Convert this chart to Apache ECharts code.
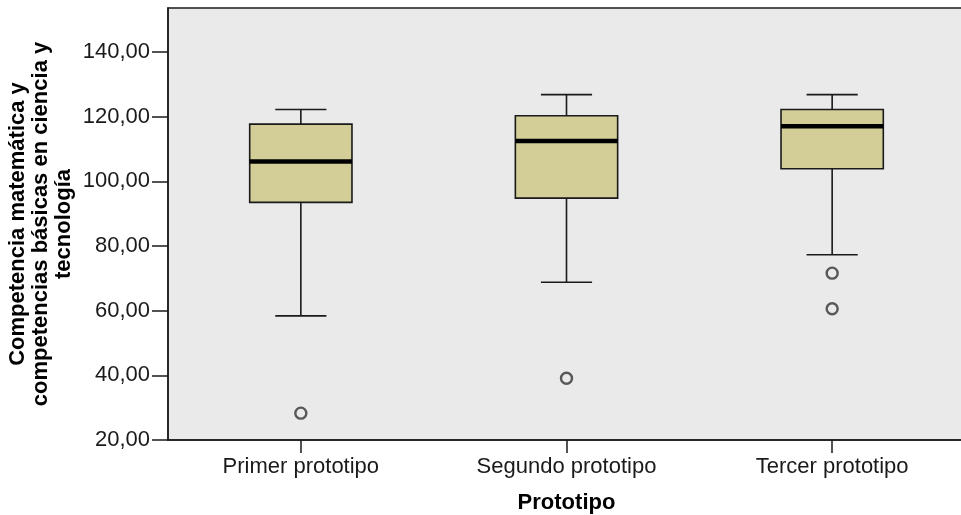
<!DOCTYPE html>
<html>
<head>
<meta charset="utf-8">
<script src="https://cdn.jsdelivr.net/npm/echarts@6/dist/echarts.min.js"></script>
<style>
  html, body { margin: 0; padding: 0; background: #ffffff; }
  #chart { width: 961px; height: 515px; }
</style>
</head>
<body>
<div id="chart"></div>
<script>
// Groups on the horizontal axis
const categories = ['Primer prototipo', 'Segundo prototipo', 'Tercer prototipo'];

// Five-number summary per group
const whiskerLow  = [58.4, 68.8, 77.3];
const quartile1   = [93.5, 94.8, 103.9];
const medians     = [106.1, 112.5, 117.0];
const quartile3   = [117.7, 120.3, 122.2];
const whiskerHigh = [122.2, 126.8, 126.8];

// Outliers as [group index, value]
const outlierGroup = [0, 1, 2, 2];
const outlierValue = [28.3, 39.1, 71.6, 60.6];

// Value axis ticks
const yTicks = [20, 40, 60, 80, 100, 120, 140];
const yMin = 20;
const yMax = 153.6;

const boxData = categories.map((c, i) => [i, whiskerLow[i], quartile1[i], medians[i], quartile3[i], whiskerHigh[i]]);
const outlierData = outlierGroup.map((g, i) => [g, outlierValue[i]]);

const FONT = '"Liberation Sans", Arial, sans-serif';
const PLOT_BG = '#EAEAEA';
const INK = '#1a1a1a';

const chart = echarts.init(document.getElementById('chart'), null, { renderer: 'canvas' });

chart.setOption({
  backgroundColor: '#ffffff',
  animation: false,
  grid: {
    left: 168, right: -4, top: 8, bottom: 75,
    outerBoundsMode: 'none',
    containLabel: false,
    show: true,
    backgroundColor: PLOT_BG,
    borderColor: INK,
    borderWidth: 1.5
  },
  xAxis: {
    type: 'category',
    data: categories,
    boundaryGap: true,
    axisLine: { show: true, lineStyle: { color: INK, width: 1.5 } },
    axisTick: { show: true, alignWithLabel: true, length: 13, lineStyle: { color: INK, width: 1.5 } },
    axisLabel: { color: '#1a1a1a', fontFamily: FONT, fontSize: 22, margin: 16 },
    splitLine: { show: false },
    name: 'Prototipo',
    nameLocation: 'middle',
    nameGap: 52,
    nameMoveOverlap: false,
    nameTextStyle: { color: '#000', fontFamily: FONT, fontSize: 22, fontWeight: 'bold' }
  },
  yAxis: {
    type: 'value',
    min: yMin,
    max: yMax,
    interval: 20,
    axisLine: { show: true, lineStyle: { color: INK, width: 1.5 } },
    axisTick: { show: true, length: 16, customValues: yTicks, lineStyle: { color: INK, width: 1.5 } },
    axisLabel: {
      customValues: yTicks,
      color: '#1a1a1a', fontFamily: FONT, fontSize: 22, margin: 18,
      formatter: v => v.toFixed(2).replace('.', ',')
    },
    splitLine: { show: false },
    name: 'Competencia matemática y\ncompetencias básicas en ciencia y\ntecnología',
    nameLocation: 'middle',
    nameGap: 93,
    nameMoveOverlap: false,
    nameRotate: 90,
    nameTextStyle: {
      color: '#000', fontFamily: FONT, fontSize: 22, fontWeight: 'bold',
      lineHeight: 23, align: 'center'
    }
  },
  series: [
    {
      type: 'custom',
      data: boxData,
      encode: { x: 0, y: [1, 2, 3, 4, 5] },
      renderItem: function (params, api) {
        const x = api.value(0);
        const lo = api.coord([x, api.value(1)]);
        const q1 = api.coord([x, api.value(2)]);
        const md = api.coord([x, api.value(3)]);
        const q3 = api.coord([x, api.value(4)]);
        const hi = api.coord([x, api.value(5)]);
        const band = api.size([1, 0])[0];
        const bw = band * 0.385;
        const cw = bw / 2;
        const cx = lo[0];
        const line = { stroke: INK, lineWidth: 1.6 };
        return {
          type: 'group',
          children: [
            { type: 'line', shape: { x1: cx, y1: hi[1], x2: cx, y2: q3[1] }, style: line },
            { type: 'line', shape: { x1: cx, y1: q1[1], x2: cx, y2: lo[1] }, style: line },
            { type: 'line', shape: { x1: cx - cw / 2, y1: hi[1], x2: cx + cw / 2, y2: hi[1] }, style: line },
            { type: 'line', shape: { x1: cx - cw / 2, y1: lo[1], x2: cx + cw / 2, y2: lo[1] }, style: line },
            {
              type: 'rect',
              shape: { x: cx - bw / 2, y: q3[1], width: bw, height: q1[1] - q3[1] },
              style: { fill: '#D3CE97', stroke: INK, lineWidth: 1.6 }
            },
            { type: 'line', shape: { x1: cx - bw / 2, y1: md[1], x2: cx + bw / 2, y2: md[1] }, style: { stroke: '#000', lineWidth: 4.5 } }
          ]
        };
      },
      z: 2
    },
    {
      type: 'scatter',
      data: outlierData,
      symbol: 'circle',
      symbolSize: 11,
      itemStyle: { color: PLOT_BG, borderColor: '#333', borderWidth: 2.4 },
      z: 3
    }
  ]
});
</script>
</body>
</html>
